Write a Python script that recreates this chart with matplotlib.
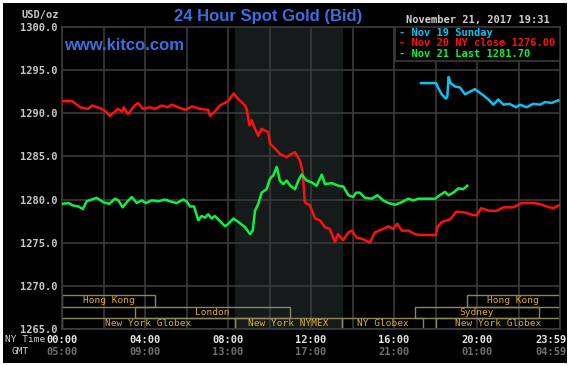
import matplotlib
matplotlib.use('Agg')
import matplotlib.pyplot as plt
import matplotlib.transforms as mtransforms
from matplotlib.patches import Rectangle

# ---- data (hours since 00:00 NY time, USD/oz) ----
red_hours = [0.05, 0.5, 0.87, 1.25, 1.45, 1.83, 2.07, 2.3, 2.7, 2.9, 2.98, 3.18, 3.5, 3.66,
             3.9, 4.24, 4.48, 4.8, 5.1, 5.3, 5.7, 5.93, 6.27, 6.65, 7.04, 7.13, 7.37, 7.6,
             8.0, 8.27, 8.48, 8.82, 8.9, 9.03, 9.14, 9.3, 9.46, 9.62, 9.94, 10.02, 10.27,
             10.5, 10.83, 11.0, 11.23, 11.47, 11.6, 11.7, 11.95, 12.2, 12.43, 12.67, 12.9,
             13.16, 13.3, 13.55, 13.8, 13.96, 14.2, 14.52, 14.84, 15.08, 15.48, 15.73,
             15.97, 16.16, 16.37, 16.69, 17.0, 17.25, 18.02, 18.09, 18.3, 18.7, 19.0,
             19.42, 19.82, 20.0, 20.2, 20.6, 20.95, 21.27, 21.75, 22.15, 22.7, 23.0,
             23.36, 23.68, 24.0]
red_prices = [1291.4, 1291.4, 1290.7, 1290.5, 1290.9, 1290.6, 1290.3, 1289.7, 1290.5, 1290.2,
              1290.7, 1289.9, 1290.9, 1291.2, 1290.5, 1290.7, 1290.5, 1290.9, 1290.7, 1291.0,
              1290.6, 1290.4, 1290.8, 1290.5, 1290.4, 1289.7, 1290.2, 1290.9, 1291.4, 1292.3,
              1291.7, 1290.9, 1290.5, 1288.6, 1289.2, 1288.2, 1287.4, 1288.2, 1287.8, 1286.5,
              1285.9, 1285.3, 1284.9, 1285.2, 1285.5, 1284.5, 1283.2, 1279.7, 1279.3, 1277.8,
              1277.6, 1276.8, 1276.6, 1275.1, 1276.0, 1275.3, 1276.2, 1276.4, 1275.6, 1275.4,
              1275.0, 1276.2, 1276.6, 1276.9, 1276.6, 1277.2, 1276.4, 1276.4, 1276.0, 1275.9,
              1275.9, 1276.8, 1277.4, 1277.7, 1278.6, 1278.5, 1278.2, 1278.2, 1279.0, 1278.7,
              1278.7, 1279.1, 1279.1, 1279.6, 1279.6, 1279.5, 1279.2, 1279.0, 1279.4]

green_hours = [0.03, 0.3, 0.55, 0.79, 1.0, 1.19, 1.43, 1.67, 1.99, 2.28, 2.55, 2.72, 2.92,
               3.12, 3.36, 3.6, 3.84, 4.05, 4.32, 4.64, 4.96, 5.2, 5.53, 5.85, 6.0, 6.17,
               6.36, 6.57, 6.73, 6.89, 7.05, 7.21, 7.37, 7.61, 7.86, 8.02, 8.26, 8.5, 8.82,
               9.06, 9.19, 9.3, 9.46, 9.62, 9.86, 10.02, 10.18, 10.35, 10.5, 10.66, 10.83,
               11.0, 11.23, 11.39, 11.55, 11.79, 12.03, 12.27, 12.52, 12.67, 13.0, 13.32,
               13.56, 13.8, 14.04, 14.17, 14.36, 14.6, 14.93, 15.2, 15.48, 15.73, 16.05,
               16.37, 16.69, 16.93, 17.17, 17.98, 18.2, 18.46, 18.62, 18.86, 19.1, 19.34, 19.53]
green_prices = [1279.5, 1279.6, 1279.3, 1279.2, 1278.9, 1279.8, 1280.0, 1280.2, 1279.7, 1279.5,
                1280.1, 1279.9, 1279.1, 1279.7, 1280.3, 1279.6, 1279.9, 1279.6, 1279.9, 1279.8,
                1280.0, 1279.8, 1279.6, 1280.0, 1279.8, 1279.2, 1279.2, 1277.6, 1278.1, 1277.9,
                1278.3, 1277.8, 1278.1, 1277.5, 1276.9, 1277.2, 1277.8, 1277.4, 1276.8, 1276.0,
                1276.4, 1278.7, 1279.5, 1280.8, 1281.2, 1282.4, 1282.8, 1283.8, 1282.2, 1281.8,
                1282.2, 1281.6, 1281.2, 1282.2, 1282.9, 1282.2, 1282.0, 1281.6, 1282.9, 1281.8,
                1281.9, 1281.6, 1281.5, 1280.5, 1280.3, 1280.8, 1280.8, 1280.2, 1280.1, 1280.5,
                1279.9, 1279.6, 1279.4, 1279.7, 1280.1, 1279.9, 1280.1, 1280.1, 1280.5, 1280.9,
                1280.5, 1280.8, 1281.3, 1281.2, 1281.6]

cyan_hours = [17.3, 18.02, 18.14, 18.3, 18.5, 18.57, 18.63, 18.73, 18.94, 19.18, 19.42, 19.66,
              19.9, 20.06, 20.3, 20.55, 20.79, 21.03, 21.27, 21.56, 21.88, 22.07, 22.39, 22.71,
              23.04, 23.28, 23.6, 23.92]
cyan_prices = [1293.5, 1293.5, 1292.9, 1292.2, 1291.7, 1291.9, 1294.2, 1293.5, 1293.1, 1293.0,
               1292.2, 1292.5, 1292.8, 1292.5, 1292.1, 1291.6, 1291.0, 1291.6, 1291.0, 1291.1,
               1290.7, 1291.0, 1290.7, 1291.1, 1291.0, 1291.3, 1291.2, 1291.5]

x_tick_hours = [0, 4, 8, 12, 16, 20, 24]
ny_labels = ['00:00', '04:00', '08:00', '12:00', '16:00', '20:00', '23:59']
gmt_labels = ['05:00', '09:00', '13:00', '17:00', '21:00', '01:00', '04:59']

legend_labels = ['- Nov 19 Sunday', '- Nov 20 NY close 1276.00', '- Nov 21 Last 1281.70']
legend_colors = ['#10c0f0', '#ff1010', '#10f040']

# trading sessions: name, start hour, end hour, row (0 = top)
session_names = ['Hong Kong', 'London', 'New York Globex', 'New York NYMEX', 'NY Globex',
                 'New York Globex', 'Hong Kong', 'Sydney']
session_start = [0, 3.5, 0, 8.33, 13.5, 18.0, 19.5, 17.0]
session_end = [4.5, 11.0, 8.33, 13.5, 17.4, 24, 24, 23.0]
session_row = [0, 1, 2, 2, 2, 2, 0, 1]
nymex_span = (8.33, 13.5)

W, H = 573, 366
mono = 'DejaVu Sans Mono'


def fx(x):
    return x / W


def fy(y):
    return 1 - y / H


fig = plt.figure(figsize=(W / 100, H / 100), dpi=100)
fig.patch.set_facecolor('white')
fig.patches.append(Rectangle((fx(3), fy(363)), (567 - 3) / W, (363 - 3) / H,
                             transform=fig.transFigure, facecolor='black',
                             edgecolor='none', zorder=-10))

ax = fig.add_axes([fx(62), fy(329), 498 / W, 302 / H])
ax.set_facecolor('black')
ax.set_xlim(0, 24)
ax.set_ylim(1265, 1300)
ax.axvspan(*nymex_span, color='#151b1b', zorder=0)
ax.set_xticks(range(0, 25, 2))
ax.set_yticks(range(1265, 1301, 5))
ax.set_yticklabels([f'{v:.1f}' for v in range(1265, 1301, 5)])
ax.grid(True, color='#3a3a3a', lw=1.2, zorder=1)
ax.set_axisbelow(True)
ax.tick_params(length=0, labelbottom=False, pad=3)
for lab in ax.get_yticklabels():
    lab.set_fontfamily(mono)
    lab.set_fontweight('bold')
    lab.set_fontsize(7.5)
    lab.set_color('#c8c8c8')
for sp in ax.spines.values():
    sp.set_color('#3a3a3a')
    sp.set_linewidth(1.2)

ax.plot(red_hours, red_prices, color=legend_colors[1], lw=1.8, zorder=3)
ax.plot(green_hours, green_prices, color=legend_colors[2], lw=1.8, zorder=3)
ax.plot(cyan_hours, cyan_prices, color=legend_colors[0], lw=1.8, zorder=3)

# session boxes
row_h = 1.3
for name, s, e, r in zip(session_names, session_start, session_end, session_row):
    y0 = 1265 + (2 - r) * row_h
    ax.add_patch(Rectangle((s, y0), e - s, row_h, facecolor='none',
                           edgecolor='#8a8660', lw=1.0, zorder=2))
    ax.text((s + e) / 2, y0 + row_h / 2, name, ha='center', va='center',
            family=mono, fontsize=6.8, color='#e0b020', zorder=4)

# legend box
ax.add_patch(Rectangle((16.05, 1296.05), 24 - 16.05, 3.95, facecolor='black',
                       edgecolor='#3a3a3a', lw=1.2, zorder=4))
for i, (lab, col) in enumerate(zip(legend_labels, legend_colors)):
    fig.text(fx(399), fy(33 + i * 10.5), lab, ha='left', va='center', family=mono,
             fontweight='bold', fontsize=7.5, color=col)

# x labels
trans = mtransforms.blended_transform_factory(ax.transData, fig.transFigure)
for h, a, b in zip(x_tick_hours, ny_labels, gmt_labels):
    ha = 'right' if h == 24 else 'center'
    xo = 24.3 if h == 24 else h
    ax.text(xo, fy(340), a, transform=trans, ha=ha, va='center', family=mono,
            fontweight='bold', fontsize=7.5, color='#e6e6e6', clip_on=False)
    ax.text(xo, fy(352), b, transform=trans, ha=ha, va='center', family=mono,
            fontweight='bold', fontsize=7.5, color='#707070', clip_on=False)
fig.text(fx(25), fy(340), 'NY Time', ha='center', va='center', family=mono,
         fontsize=6.8, color='#d0d0d0')
fig.text(fx(20), fy(352), 'GMT', ha='center', va='center', family=mono,
         fontsize=6.8, color='#d0d0d0')

# headers
fig.text(fx(40), fy(15), 'USD/oz', ha='center', va='center', family=mono,
         fontweight='bold', fontsize=7.5, color='#c8c8c8')
fig.text(fx(268), fy(16), '24 Hour Spot Gold (Bid)', ha='center', va='center',
         family='Liberation Sans', fontweight='bold', fontsize=12, color='#3a6fe0')
fig.text(fx(64), fy(46), 'www.kitco.com', ha='left', va='center',
         family='Liberation Sans', fontweight='bold', fontsize=12, color='#3a6fe0')
fig.text(fx(478), fy(20), 'November 21, 2017 19:31', ha='center', va='center',
         family=mono, fontweight='bold', fontsize=7.5, color='#d0d0d0')

fig.savefig('out.png', dpi=100, facecolor=fig.get_facecolor())
